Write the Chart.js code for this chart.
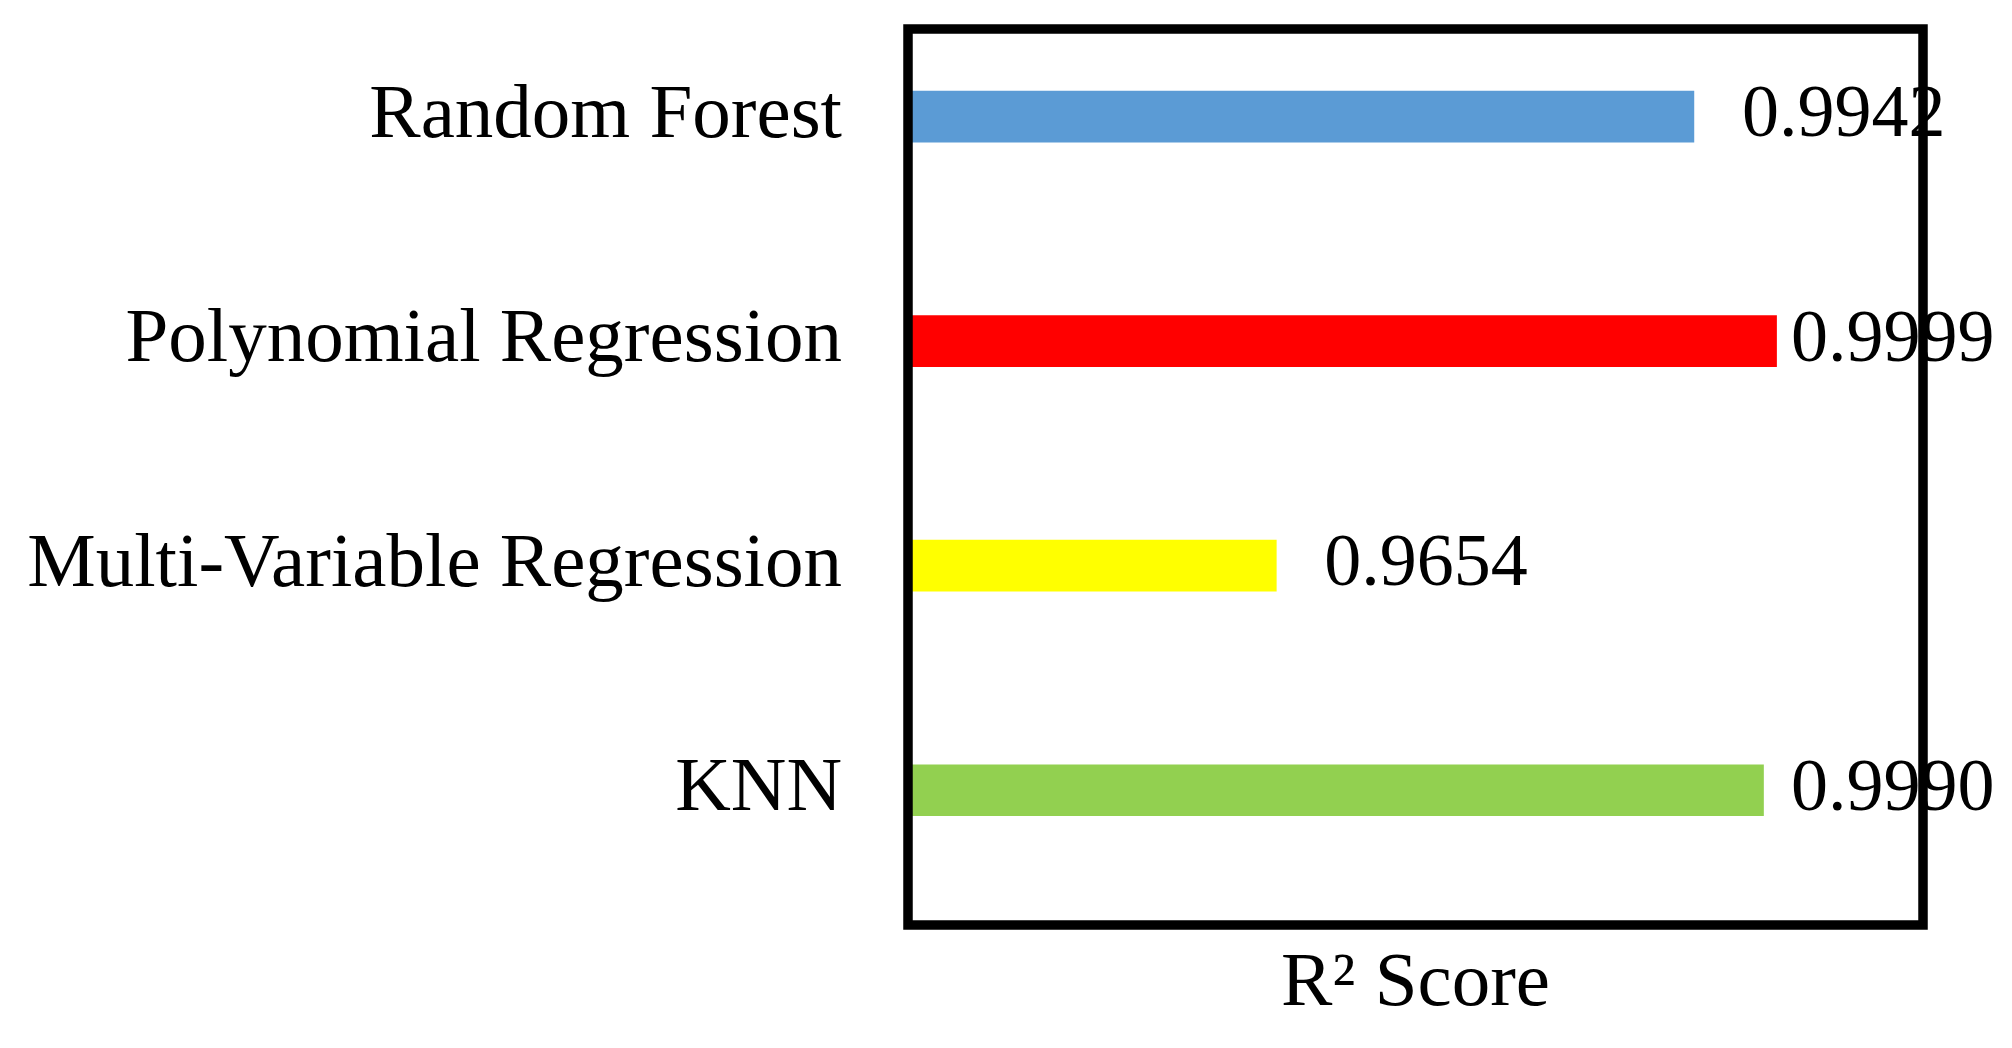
<!DOCTYPE html>
<html>
<head>
<meta charset="utf-8">
<title>R2 Score</title>
<script src="https://cdn.jsdelivr.net/npm/chart.js@4.4.0/dist/chart.umd.min.js"></script>
<style>
html,body{margin:0;padding:0;background:#fff;}
</style>
</head>
<body>
<canvas id="myChart" width="2012" height="1048"></canvas>
<script>
'use strict'

let models=['Random Forest','Polynomial Regression','Multi-Variable Regression','KNN'];
let r2Scores=[0.9942,0.9999,0.9654,0.9990];
let valueLabels=['0.9942','0.9999','0.9654','0.9990'];
let barColors=['#5B9BD5','#FF0000','#FFFF00','#92D050'];
let xMin=0.94;
let xMax=1.01;
let axisTitle='R\u00B2 Score';

let fontName='"Liberation Serif", "Times New Roman", serif';

// black frame round the plot area
let frameBox={
    id:'frameBox',
    afterDatasetsDraw(chart){
        let ctx=chart.ctx;
        let a=chart.chartArea;
        ctx.save();
        ctx.lineWidth=9.5;
        ctx.strokeStyle='#000';
        ctx.strokeRect(a.left,a.top,a.right-a.left,a.bottom-a.top);
        ctx.restore();
    }
};

// score written next to each bar
let barValues={
    id:'barValues',
    afterDraw(chart){
        let ctx=chart.ctx;
        let meta=chart.getDatasetMeta(0);
        ctx.save();
        ctx.font='74px '+fontName;
        ctx.fillStyle='#000';
        ctx.textAlign='left';
        ctx.textBaseline='middle';
        meta.data.forEach(function(bar,i){
            // long bars: text is held back so it stays near the frame
            let x=Math.min(bar.x+48,chart.chartArea.right-132);
            ctx.fillText(valueLabels[i],x,bar.y);
        });
        ctx.restore();
    }
};

let points=[];
for(let index=0;index<models.length;index++){
    points.push({x:r2Scores[index],y:index});
}

let ctx=document.getElementById('myChart').getContext('2d');
let myChart=new Chart(ctx,{
    type:'bar',
    data:{
        datasets:[{
            data:points,
            backgroundColor:barColors,
            borderWidth:0,
            barThickness:51
        }]
    },
    plugins:[frameBox,barValues],
    options:{
        indexAxis:'y',
        responsive:false,
        animation:false,
        devicePixelRatio:1,
        layout:{padding:{left:0,right:89,top:29,bottom:0}},
        plugins:{legend:{display:false},tooltip:{enabled:false}},
        scales:{
            x:{
                type:'linear',
                min:xMin,
                max:xMax,
                grid:{display:false},
                border:{display:false},
                ticks:{display:false},
                title:{
                    display:true,
                    text:axisTitle,
                    color:'#000',
                    font:{family:fontName,size:77},
                    padding:{top:17,bottom:17}
                },
                afterFit(scale){
                    scale.height=123;
                    scale.paddingLeft=0;
                    scale.paddingRight=0;
                }
            },
            y:{
                type:'linear',
                reverse:true,
                offset:false,
                min:-0.39,
                max:3.6,
                grid:{display:false,drawTicks:false},
                border:{display:false},
                afterBuildTicks(scale){
                    scale.ticks=models.map(function(m,i){return {value:i};});
                },
                ticks:{
                    color:'#000',
                    padding:66,
                    autoSkip:false,
                    font:{family:fontName,size:77},
                    callback:function(value){return models[value];}
                },
                afterFit(scale){
                    scale.width=908;
                    scale.paddingTop=0;
                    scale.paddingBottom=0;
                }
            }
        }
    }
});
</script>
</body>
</html>
